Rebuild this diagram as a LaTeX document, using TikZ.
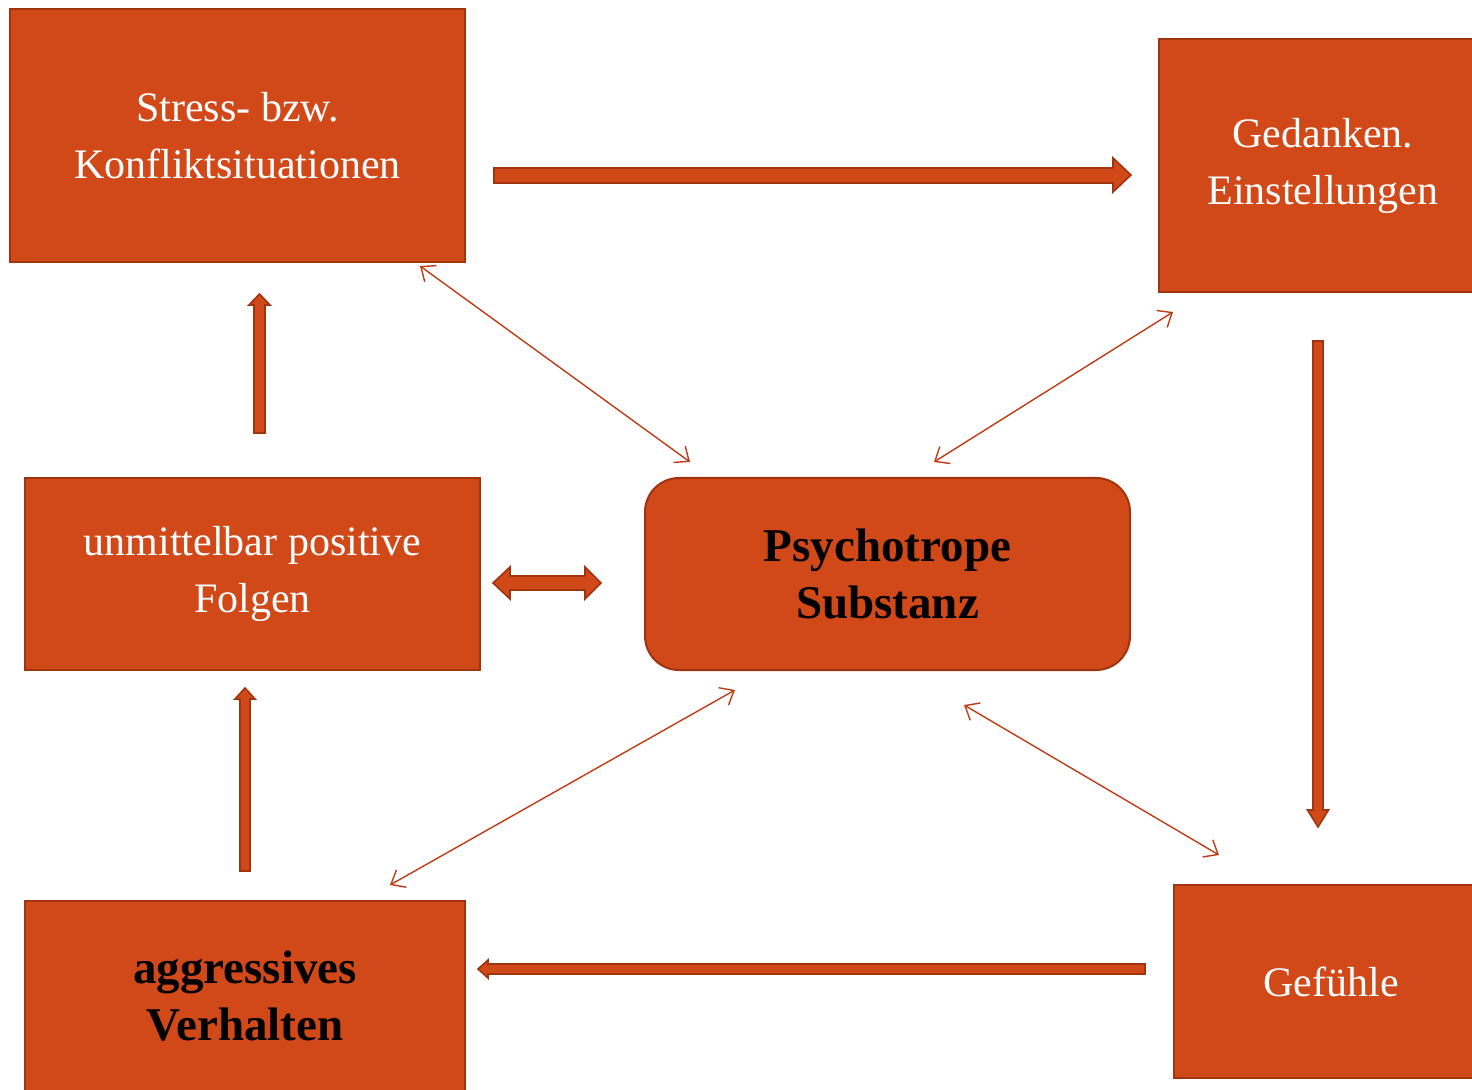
\documentclass[tikz,border=0pt]{standalone}
\usepackage{fontspec}
\setmainfont{Liberation Serif}
\usetikzlibrary{arrows.meta}
\definecolor{boxfill}{RGB}{209,73,24}
\definecolor{boxline}{RGB}{160,52,14}
\definecolor{thinline}{RGB}{190,60,20}
\begin{document}
\begin{tikzpicture}[x=0.5pt,y=-0.5pt,
  box/.style={draw=boxline, line width=1pt, fill=boxfill, inner sep=0pt, align=center,
    font=\fontsize{21}{28.5}\selectfont, text=white},
  boldbox/.style={box, text=black, font=\fontsize{23.5}{28.5}\selectfont\bfseries},
  blockarrow/.style={draw=boxline, line width=0.8pt, fill=boxfill, line join=miter},
  thinarrow/.style={draw=thinline, line width=0.7pt,
    {Straight Barb[length=6pt,width=10pt]}-{Straight Barb[length=6pt,width=10pt]}}]
\clip (0,0) rectangle (1472,1090);
\fill[white] (0,0) rectangle (1472,1090);

% boxes
\node[box, minimum width=227.5pt, minimum height=126.5pt] (stress) at (237.5,135.5)
  {Stress- bzw.\\Konfliktsituationen};
\node[box, minimum width=164pt, minimum height=126.5pt] (gedanken) at (1323,165.5)
  {Gedanken.\\Einstellungen};
\node[box, minimum width=227.5pt, minimum height=96pt] (folgen) at (252.5,574)
  {unmittelbar positive\\Folgen};
\node[boldbox, rounded corners=17pt, minimum width=242.5pt, minimum height=96pt] (psy) at (887.5,574)
  {Psychotrope\\Substanz};
\node[boldbox, minimum width=220pt, minimum height=95.5pt] (aggr) at (245,996.5)
  {aggressives\\Verhalten};
\node[box, minimum width=157pt, minimum height=96.5pt] (gef) at (1331,981.5)
  {Gefühle};

% block arrows
% stress -> gedanken
\path[blockarrow] (494,168) -- (1113,168) -- (1113,158) -- (1131,175) -- (1113,192) -- (1113,183) -- (494,183) -- cycle;
% folgen -> stress
\path[blockarrow] (254,433) -- (254,305) -- (249,305) -- (259.5,294) -- (270,305) -- (265,305) -- (265,433) -- cycle;
% gedanken -> gefuehle
\path[blockarrow] (1313,341) -- (1323,341) -- (1323,810) -- (1328.5,810) -- (1318,827) -- (1307.5,810) -- (1313,810) -- cycle;
% folgen <-> psy
\path[blockarrow] (493,583) -- (510,567) -- (510,576) -- (585,576) -- (585,567) -- (601,583) -- (585,599) -- (585,590) -- (510,590) -- (510,599) -- cycle;
% aggr -> folgen
\path[blockarrow] (240,871) -- (240,699) -- (235,699) -- (245,688) -- (255,699) -- (250,699) -- (250,871) -- cycle;
% gefuehle -> aggr
\path[blockarrow] (1145,964) -- (488,964) -- (488,960) -- (478,969) -- (488,978) -- (488,974) -- (1145,974) -- cycle;

% thin double arrows
\coordinate (s1) at (420,266);
\coordinate (p1) at (690,462);
\coordinate (g1) at (1173,312);
\coordinate (p2) at (934,462);
\coordinate (p3) at (735,690);
\coordinate (a1) at (390,885);
\coordinate (p4) at (964,705);
\coordinate (f1) at (1219,855);
\draw[thinarrow] (s1) -- (p1);
\draw[thinarrow] (g1) -- (p2);
\draw[thinarrow] (p3) -- (a1);
\draw[thinarrow] (p4) -- (f1);
\end{tikzpicture}
\end{document}
